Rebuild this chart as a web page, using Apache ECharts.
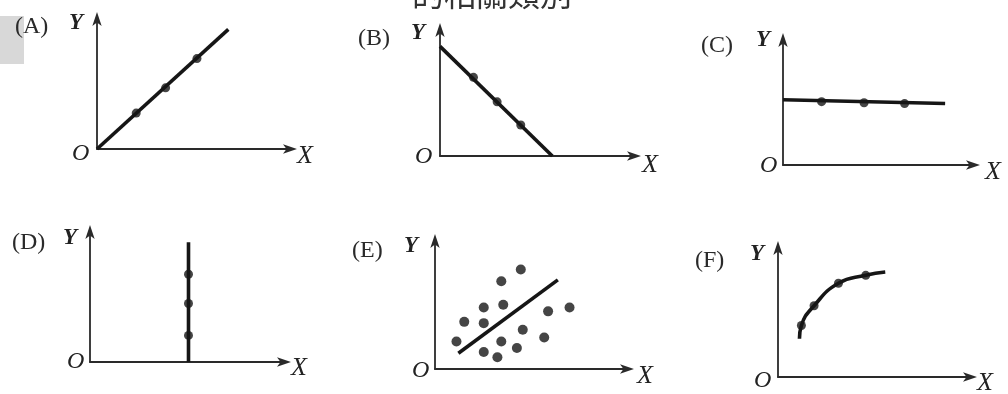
<!DOCTYPE html>
<html><head><meta charset="utf-8">
<script src="https://cdn.jsdelivr.net/npm/echarts@6/dist/echarts.min.js"></script>
<style>html,body{margin:0;padding:0;background:#fff}#c{width:1008px;height:394px}</style>
</head><body><div id="c"></div>
<script>
// Panel labels
const panelNames = ['(A)', '(B)', '(C)', '(D)', '(E)', '(F)'];
const axisNames = { x: 'X', y: 'Y', origin: 'O' };

// (A) positive perfect linear
const lineA = [[0, 0], [67, 90]];
const dotsA = [[20, 27], [35, 46], [51, 68]];
// (B) negative perfect linear
const lineB = [[0, 85], [57, 0]];
const dotsB = [[17, 61], [29, 42], [41, 24]];
// (C) horizontal
const lineC = [[0, 51], [84, 48]];
const dotsC = [[20, 49.5], [42, 48.6], [63, 48]];
// (D) vertical
const lineD = [[50, 0], [50, 90]];
const dotsD = [[50, 66], [50, 44], [50, 20]];
// (E) weak positive scatter with trend line
const lineE = [[12, 12], [63, 68]];
const dotsE = [[44, 76], [34, 67], [25, 47], [35, 49], [15, 36], [25, 35], [58, 44], [69, 47],
               [11, 21], [45, 30], [56, 24], [34, 21], [25, 13], [32, 9], [42, 16]];
// (F) curvilinear
const curveF = [[11, 29], [12, 39], [18.5, 54], [31, 71], [45, 77], [55, 79.5]];
const dotsF = [[12, 39], [18.5, 54], [31, 71], [45, 77]];

const lines = [lineA, lineB, lineC, lineD, lineE, curveF];
const dots = [dotsA, dotsB, dotsC, dotsD, dotsE, dotsF];

// layout (pixel boxes of each panel's axes)
const boxes = [
  { left: 97, top: 16, width: 196, height: 133 },
  { left: 440, top: 27, width: 197, height: 129 },
  { left: 783, top: 37, width: 193, height: 128 },
  { left: 90, top: 229, width: 197, height: 133 },
  { left: 435, top: 238, width: 195, height: 131 },
  { left: 778, top: 245, width: 195, height: 132 }
];
const labelPos = [
  { p: [15, 28], y: [69, 25], o: [72, 155], x: [297, 156] },
  { p: [358, 40], y: [411, 35], o: [415, 158], x: [642, 165] },
  { p: [701, 47], y: [756, 42], o: [760, 167], x: [985, 172] },
  { p: [12, 244], y: [63, 240], o: [67, 363], x: [291, 368] },
  { p: [352, 252], y: [404, 248], o: [412, 372], x: [637, 376] },
  { p: [695, 262], y: [750, 256], o: [754, 382], x: [977, 383] }
];

const ink = '#161616';
const grid = [], xAxis = [], yAxis = [], series = [], graphic = [];
boxes.forEach((b, i) => {
  grid.push(Object.assign({}, b));
  const ax = {
    type: 'value', min: 0, max: 100, gridIndex: i,
    axisLine: { show: true, onZero: false, symbol: ['none', 'arrow'], symbolSize: [7, 14], symbolOffset: [0, 4],
      lineStyle: { color: '#2a2a2a', width: 1.8 } },
    axisTick: { show: false }, axisLabel: { show: false }, splitLine: { show: false }
  };
  xAxis.push(Object.assign({}, ax));
  yAxis.push(Object.assign({}, ax));
  series.push({
    type: 'line', xAxisIndex: i, yAxisIndex: i, data: lines[i], smooth: i === 5,
    symbol: 'none', lineStyle: { color: ink, width: 3.6 }, silent: true
  });
  series.push({
    type: 'scatter', xAxisIndex: i, yAxisIndex: i, data: dots[i],
    symbolSize: i === 4 ? 10 : 9, itemStyle: { color: ink }, silent: true
  });
  const L = labelPos[i];
  const serif = '"Liberation Serif", "DejaVu Serif", serif';
  graphic.push({ type: 'text', left: L.p[0], top: L.p[1] - 13,
    style: { text: panelNames[i], font: '24px ' + serif, fill: '#2a2a2a' } });
  graphic.push({ type: 'text', left: L.y[0], top: L.y[1] - 13,
    style: { text: axisNames.y, font: 'italic bold 23px ' + serif, fill: '#222' } });
  graphic.push({ type: 'text', left: L.o[0], top: L.o[1] - 13,
    style: { text: axisNames.origin, font: 'italic 24px ' + serif, fill: '#222' } });
  graphic.push({ type: 'text', left: L.x[0], top: L.x[1] - 13,
    style: { text: axisNames.x, font: 'italic 26px ' + serif, fill: '#222' } });
});
// scan artefacts: gray patch and cropped heading
graphic.push({ type: 'rect', left: 0, top: 16, shape: { width: 24, height: 48 }, style: { fill: '#d8d8d8' }, z: -10 });
graphic.push({ type: 'text', left: 412, top: -22,
  style: { text: '的相關類別', font: '32px "Noto Sans CJK TC", sans-serif', fill: '#333' } });

const chart = echarts.init(document.getElementById('c'), null, { renderer: 'canvas' });
chart.setOption({ animation: false, backgroundColor: '#fff', grid, xAxis, yAxis, series, graphic });
</script></body></html>
